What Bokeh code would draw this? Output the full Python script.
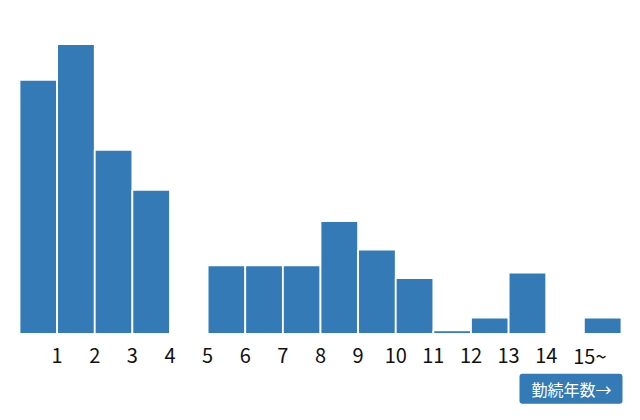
from bokeh.plotting import figure
from bokeh.models import Range1d, ColumnDataSource, Label
from bokeh.core.properties import value
from bokeh.embed import file_html
from bokeh.resources import INLINE

# Data (percent of staff by years of service)
bins_left = list(range(16))
shares = [17.8, 20.3, 12.9, 10.1, 0.0, 4.8, 4.8, 4.8, 7.9, 5.9, 3.9, 0.25, 1.14, 4.3, 0.0, 1.14]
tick_values = [1, 2, 3, 4, 5, 6, 7, 8, 9, 10, 11, 12, 13, 14, 15.16]
tick_labels = ["1", "2", "3", "4", "5", "6", "7", "8", "9", "10", "11", "12", "13", "14", "15~"]
axis_title = "勤続年数→"

BLUE = "#337ab7"

src = ColumnDataSource(dict(left=bins_left, right=[b + 1 for b in bins_left],
                            top=shares, bottom=[0] * len(shares)))
lab = ColumnDataSource(dict(x=tick_values, y=[0] * len(tick_values), text=tick_labels))

p = figure(width=624, height=404, output_backend="svg", toolbar_location=None,
           x_range=Range1d(-0.505, 16.08), y_range=Range1d(-4.95, 23.36),
           min_border_left=0, min_border_right=0, min_border_top=0, min_border_bottom=0)
p.quad(left="left", right="right", top="top", bottom="bottom", source=src,
       fill_color=BLUE, line_color="white", line_width=1.8)
p.text(x="x", y="y", text="text", source=lab, text_align="center", text_baseline="middle",
       y_offset=22, text_font=value("Noto Sans CJK JP"), text_font_size="20px",
       text_color="#111111")

p.outline_line_color = None
p.grid.visible = False
p.axis.visible = False

btn = Label(x=622, y=30.7, x_units="screen", y_units="screen", text=axis_title,
            anchor="top_right", text_align="right", text_baseline="top",
            text_font="Noto Sans CJK JP", text_font_size="16px", text_color="white",
            background_fill_color=BLUE, border_line_color=None,
            padding={"left": 12, "right": 11, "top": 3, "bottom": 3}, border_radius=3)
p.add_layout(btn)

open("out.html", "w").write(file_html(p, INLINE))
